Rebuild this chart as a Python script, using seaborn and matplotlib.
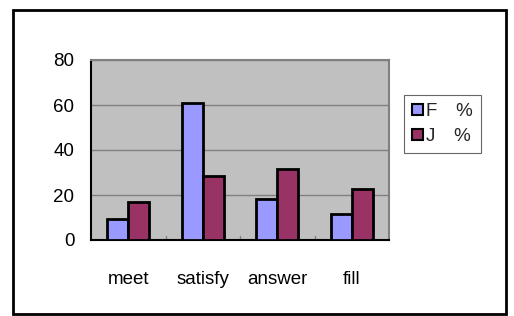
import pandas as pd
import matplotlib
matplotlib.use("Agg")
import matplotlib.pyplot as plt
import seaborn as sns

# data
categories = ["meet", "satisfy", "answer", "fill"]
f_pct = [9.2, 60.7, 18.4, 11.6]
j_pct = [16.9, 28.4, 31.4, 22.8]
series = ["F\u3000%", "J\u3000%"]

df = pd.DataFrame({
    "word": categories * 2,
    "pct": f_pct + j_pct,
    "group": [series[0]] * len(categories) + [series[1]] * len(categories),
})

sns.set_theme(style="white")
plt.rcParams["font.family"] = ["Liberation Sans", "Noto Sans CJK JP", "DejaVu Sans"]

W, H = 514, 316
fig = plt.figure(figsize=(W / 100, H / 100), dpi=100)
fig.patch.set_facecolor("white")

# outer chart border
fig.patches.append(plt.Rectangle((13 / W, 1 - 314 / H), 493 / W, 304 / H,
                                 transform=fig.transFigure, fill=False,
                                 edgecolor="black", linewidth=2))

ax = fig.add_axes([91 / W, 1 - 240 / H, 298 / W, 180 / H])
ax.set_facecolor("#C0C0C0")

sns.barplot(data=df, x="word", y="pct", hue="group",
            palette=["#9999FF", "#993366"], edgecolor="black", linewidth=2,
            width=0.56, saturation=1, gap=0, ax=ax, zorder=3)

ax.set_ylim(0, 80)
ax.set_yticks([0, 20, 40, 60, 80])
ax.set_xlim(-0.5, 3.5)
ax.yaxis.grid(True, color="#808080", linewidth=1, zorder=0)
ax.set_axisbelow(True)

ax.set_xlabel("")
ax.set_ylabel("")
ax.tick_params(axis="y", length=0, pad=12, labelsize=13.5, colors="black")
ax.tick_params(axis="x", length=0, pad=22, labelsize=13.5, colors="black")

# small inward ticks between categories
for xb in [0.5, 1.5, 2.5]:
    ax.plot([xb, xb], [0, 2], color="#808080", linewidth=1, zorder=2)

for side in ["top", "right"]:
    ax.spines[side].set_color("#808080")
    ax.spines[side].set_linewidth(1.5)
for side in ["left", "bottom"]:
    ax.spines[side].set_color("black")
    ax.spines[side].set_linewidth(1.5)

leg = ax.legend(loc="upper left", bbox_to_anchor=(404 / W, 1 - 95 / H),
                bbox_transform=fig.transFigure, frameon=True, fancybox=False,
                fontsize=13.5, handlelength=0.55, handleheight=0.55,
                handletextpad=0.15, borderpad=0.45, labelspacing=0.4,
                borderaxespad=0)
leg.get_frame().set_edgecolor("#404040")
leg.get_frame().set_linewidth(0.8)
for h in leg.legend_handles:
    h.set_linewidth(1.5)

fig.savefig("out.png", dpi=100)
